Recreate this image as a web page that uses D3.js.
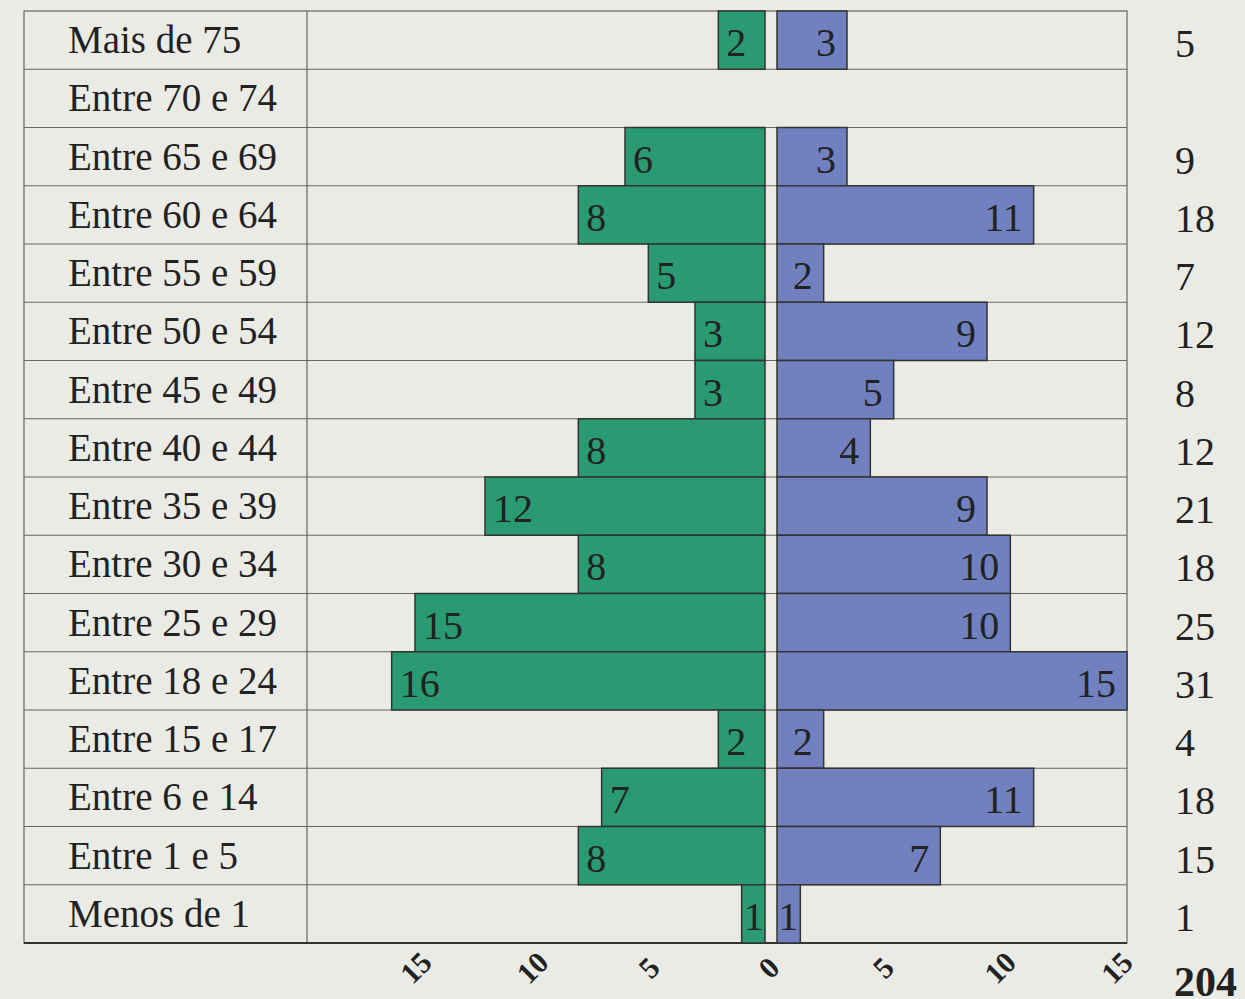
<!DOCTYPE html>
<html>
<meta charset="utf-8">
<style>
body { margin: 0; background: #ebebe6; }
text { font-family: "Liberation Serif", "DejaVu Serif", serif; fill: #222; }
.grid { stroke: #666; stroke-width: 1.2; fill: none; }
.bar { stroke: #333; stroke-width: 1.5; }
.tick-lab { font-weight: bold; font-size: 30px; }
</style>
<body>
<svg width="1245" height="999"></svg>
<script src="https://d3js.org/d3.v7.min.js"></script>
<script>
var categories = ["Mais de 75", "Entre 70 e 74", "Entre 65 e 69", "Entre 60 e 64", "Entre 55 e 59",
  "Entre 50 e 54", "Entre 45 e 49", "Entre 40 e 44", "Entre 35 e 39", "Entre 30 e 34",
  "Entre 25 e 29", "Entre 18 e 24", "Entre 15 e 17", "Entre 6 e 14", "Entre 1 e 5", "Menos de 1"];
var greenValues = [2, 0, 6, 8, 5, 3, 3, 8, 12, 8, 15, 16, 2, 7, 8, 1];
var blueValues  = [3, 0, 3, 11, 2, 9, 5, 4, 9, 10, 10, 15, 2, 11, 7, 1];
var totals = ["5", "", "9", "18", "7", "12", "8", "12", "21", "18", "25", "31", "4", "18", "15", "1"];
var grandTotal = "204";
var tickValues = [15, 10, 5];

var svg = d3.select("svg");
var tableLeft = 24, labelRight = 307, tableRight = 1127, topY = 11, bottomY = 943;
var zeroL = 765, zeroR = 777;

var y = d3.scaleBand().domain(categories).range([topY, bottomY]);
var xL = d3.scaleLinear().domain([0, 15]).range([zeroL, zeroL - 350]);
var xR = d3.scaleLinear().domain([0, 15]).range([zeroR, tableRight]);

var rows = categories.map(function(c, i) {
  return {cat: c, g: greenValues[i], b: blueValues[i], t: totals[i]};
});

// table outline and row lines
svg.append("rect").attr("class", "grid")
  .attr("x", tableLeft).attr("y", topY)
  .attr("width", tableRight - tableLeft).attr("height", bottomY - topY);
svg.append("line").attr("class", "grid")
  .attr("x1", labelRight).attr("x2", labelRight).attr("y1", topY).attr("y2", bottomY);
svg.selectAll(".rowline").data(categories.slice(1)).enter().append("line")
  .attr("class", "grid")
  .attr("x1", tableLeft).attr("x2", tableRight)
  .attr("y1", function(d) { return y(d); }).attr("y2", function(d) { return y(d); });
svg.append("line").attr("x1", tableLeft).attr("x2", tableRight)
  .attr("y1", bottomY).attr("y2", bottomY).attr("stroke", "#333").attr("stroke-width", 2);

// category labels
svg.selectAll(".cat").data(rows).enter().append("text")
  .attr("x", 68).attr("y", function(d) { return y(d.cat) + 42; })
  .style("font-size", "39px").text(function(d) { return d.cat; });

// green bars
svg.selectAll(".gbar").data(rows).enter().append("rect")
  .attr("class", "bar").attr("fill", "#2a9a72")
  .attr("x", function(d) { return xL(d.g); })
  .attr("y", function(d) { return y(d.cat); })
  .attr("width", function(d) { return xL(0) - xL(d.g); })
  .attr("height", y.bandwidth())
  .attr("stroke", function(d) { return d.g ? "#333" : "#777"; })
  .attr("stroke-width", function(d) { return d.g ? 1.5 : 1; });

// blue bars
svg.selectAll(".bbar").data(rows).enter().append("rect")
  .attr("class", "bar").attr("fill", "#7180bf")
  .attr("x", xR(0))
  .attr("y", function(d) { return y(d.cat); })
  .attr("width", function(d) { return xR(d.b) - xR(0); })
  .attr("height", y.bandwidth())
  .attr("stroke", function(d) { return d.b ? "#333" : "#777"; })
  .attr("stroke-width", function(d) { return d.b ? 1.5 : 1; });

// value labels
svg.selectAll(".gval").data(rows.filter(function(d) { return d.g; })).enter().append("text")
  .attr("x", function(d) { return xL(d.g) + (d.g > 1 ? 8 : 2); })
  .attr("y", function(d) { return y(d.cat) + 45; })
  .style("font-size", "40px").text(function(d) { return d.g; });
svg.selectAll(".bval").data(rows.filter(function(d) { return d.b; })).enter().append("text")
  .attr("x", function(d) { return xR(d.b) - (d.b > 1 ? 11 : 2); })
  .attr("y", function(d) { return y(d.cat) + 45; })
  .attr("text-anchor", "end")
  .style("font-size", "40px").text(function(d) { return d.b; });

// totals
svg.selectAll(".tot").data(rows).enter().append("text")
  .attr("x", 1175).attr("y", function(d) { return y(d.cat) + 46; })
  .style("font-size", "40px").text(function(d) { return d.t; });
svg.append("text").attr("x", 1174).attr("y", 996)
  .style("font-size", "42px").style("font-weight", "bold").text(grandTotal);

// axis tick labels (rotated)
function tickLabel(x, t) {
  svg.append("text").attr("class", "tick-lab")
    .attr("text-anchor", "middle")
    .attr("transform", "translate(" + x + ",975) rotate(-45)")
    .text(t);
}
tickValues.forEach(function(v) { tickLabel(xL(v) + 8, v); });
tickLabel((zeroL + zeroR) / 2 + 5, 0);
tickValues.slice().reverse().forEach(function(v) { tickLabel(xR(v) - 3, v); });
</script>
</body>
</html>
